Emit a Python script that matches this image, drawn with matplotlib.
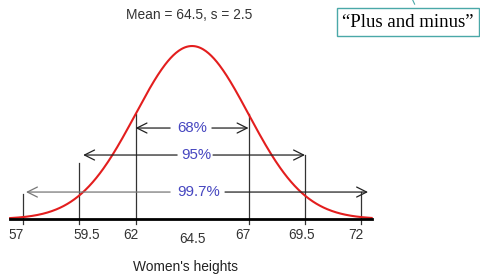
import numpy as np
import matplotlib.pyplot as plt
from matplotlib.patches import FancyArrowPatch

plt.rcParams['font.family'] = ['Liberation Sans', 'DejaVu Sans']

# Data
mean = 64.5
sd = 2.5
tick_values = [57, 59.5, 62, 64.5, 67, 69.5, 72]
tick_labels = ["57", "59.5", "62", "64.5", "67", "69.5", "72"]
band_labels = ["68%", "95%", "99.7%"]
band_sigmas = [1, 2, 3]

fig = plt.figure(figsize=(4.81, 2.77), dpi=100)
ax = fig.add_axes([0, 0, 1, 1])
ax.set_xlim(56.0, 77.29)
ax.set_ylim(-0.335, 1.266)
ax.axis("off")

# normal curve scaled so the peak is 1
x = np.linspace(56.45, 72.45, 400)
y = np.exp(-0.5 * ((x - mean) / sd) ** 2)
ax.plot(x, y, color="#e31e1e", lw=1.5, zorder=3)

# axis line
ax.plot([56.45, 72.45], [0, 0], color="black", lw=2, zorder=4)

# vertical guide lines
line_color = "#333333"
tops = {57: 0.145, 59.5: 0.324, 62: 0.6065, 67: 0.6065, 69.5: 0.37, 72: 0.156}
for v, top in tops.items():
    ax.plot([v, v], [-0.03, top], color=line_color, lw=0.9, zorder=2)

# tick labels (slightly offset like the reference)
label_shift = [-0.3, 0.35, -0.2, 0.0, -0.25, -0.15, -0.25]
for v, lab, dx in zip(tick_values, tick_labels, label_shift):
    dy = -0.115 if lab == "64.5" else -0.095
    ax.text(v + dx, dy, lab, ha="center", va="center", fontsize=9.8, color="#333333")

# arrows for each band
band_y = [0.526, 0.37, 0.156]
gaps = [(63.53, 65.38), (63.84, 65.43), (63.53, 65.96)]
ends = [(62, 67), (59.68, 69.5), (57.15, 72.29)]
text_x = [64.5, 64.68, 64.77]
arrow_colors = [("#222222", "#222222"), ("#222222", "#222222"), ("#777777", "#222222")]
for lab, yy, (g1, g2), (e1, e2), tx, cols in zip(band_labels, band_y, gaps, ends, text_x, arrow_colors):
    for (start, end), c in zip([(g1, e1), (g2, e2)], cols):
        arr = FancyArrowPatch((start, yy), (end, yy), arrowstyle="->,head_length=0.6,head_width=0.3",
                              mutation_scale=12, color=c, lw=0.9, shrinkA=0, shrinkB=0, zorder=5)
        ax.add_patch(arr)
    ax.text(tx, yy, lab, ha="center", va="center", fontsize=10.8, color="#4646c0", zorder=6)

# title and x label
ax.text(64.38, 1.18, "Mean = 64.5, s = 2.5", ha="center", va="center", fontsize=9.9, color="#333333")
ax.text(64.2, -0.28, "Women's heights", ha="center", va="center", fontsize=9.9, color="#222222")

# callout box
ax.text(0.848, 0.92, "\u201cPlus and minus\u201d", transform=fig.transFigure, ha="center", va="center",
        fontsize=13.5, family="Liberation Serif", color="black",
        bbox=dict(boxstyle="square,pad=0.3", fc="white", ec="#4aa8a8", lw=1))
fig.add_artist(plt.Line2D([0.858, 0.862], [1.0, 0.985], transform=fig.transFigure, color="#4aa8a8", lw=0.8))

fig.savefig("out.png", dpi=100)
